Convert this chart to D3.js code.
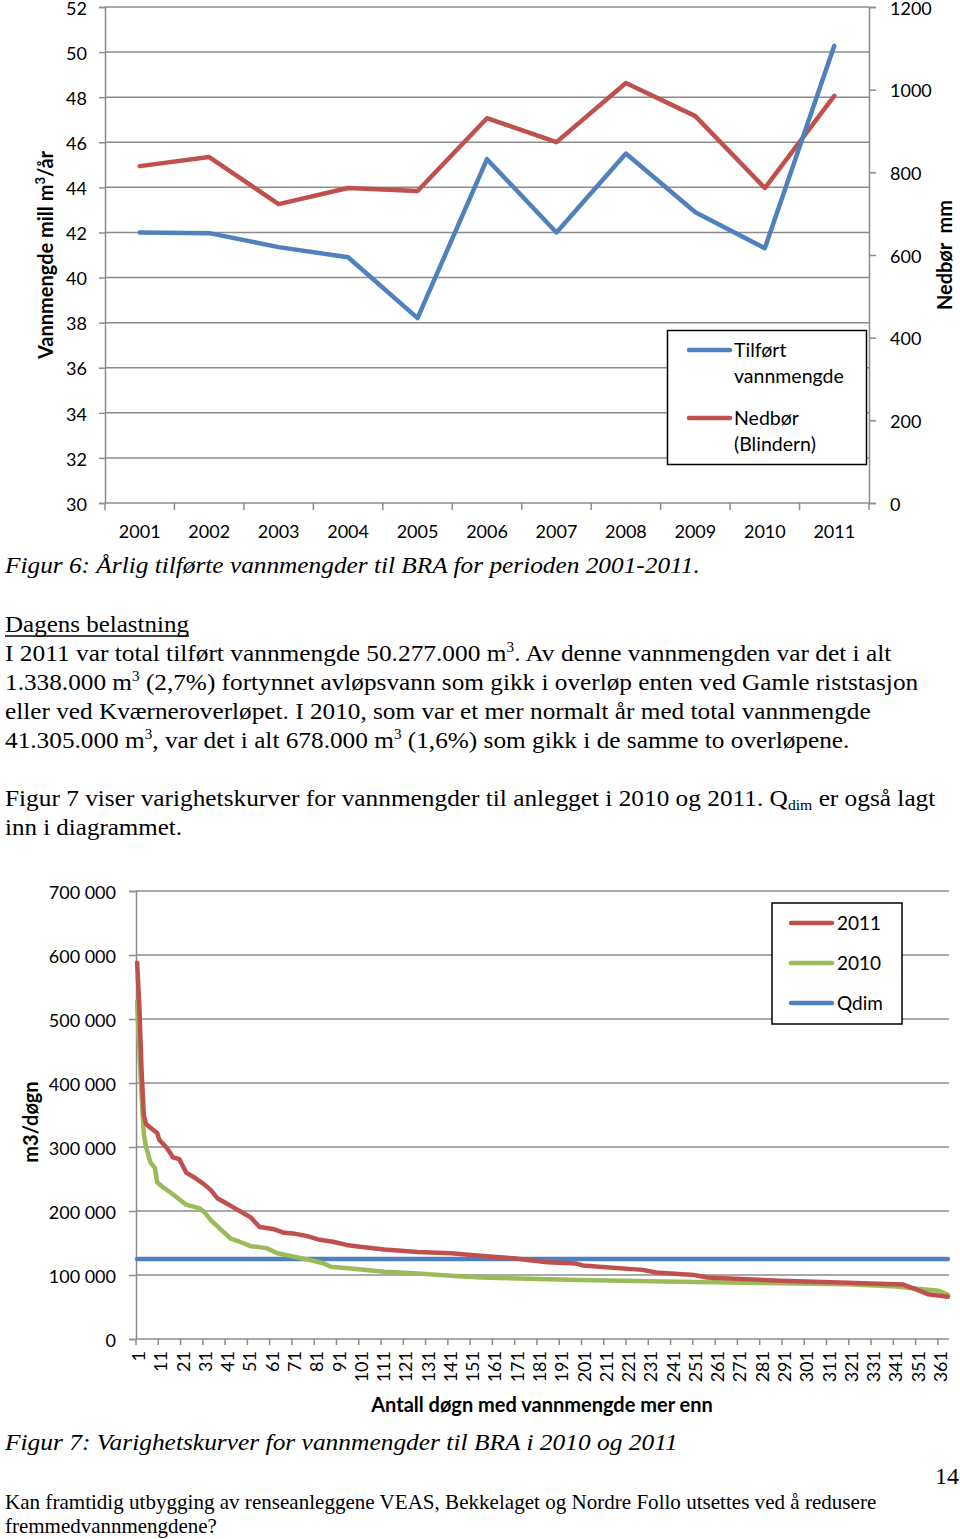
<!DOCTYPE html>
<html><head><meta charset="utf-8">
<script src="https://cdn.jsdelivr.net/npm/d3@7"></script>
<style>
html,body{margin:0;padding:0;background:#fff;}
svg{display:block;}
</style></head>
<body>
<svg id="page" width="960" height="1539"></svg>
<script>
// ---------- Figure 6 data ----------
const years = ["2001","2002","2003","2004","2005","2006","2007","2008","2009","2010","2011"];
const inflow = [42.0, 41.97, 41.35, 40.9, 38.2, 45.25, 42.0, 45.5, 42.9, 41.3, 50.28]; // mill m3/år
const precip = [815, 837, 723, 762, 755, 931, 873, 1016, 936, 762, 985];              // mm
const leftTicks = [30,32,34,36,38,40,42,44,46,48,50,52];
const rightTicks = [0,200,400,600,800,1000,1200];

// ---------- Figure 7 data (duration curves) ----------
const days2011 = [1,2,3,4,5,7,10,11,14,16,17,20,23,26,31,34,37,41,44,49,52,56,62,67,71,77,83,89,95,101,112,127,142,155,170,185,198,201,228,234,251,257,290,320,345,351,356,365];
const flow2011 = [588000,520000,420000,350000,336000,330000,322000,311000,300000,290000,284000,281000,260000,254000,242000,233000,220000,212000,206000,196000,190000,175000,172000,166000,165000,161000,155000,152000,147000,144000,140000,136000,134000,130000,126000,120000,118000,115000,108000,104000,100000,96000,91000,88000,85000,77000,70000,66000];
const days2010 = [1,2,3,4,5,7,9,10,13,16,20,23,29,31,34,38,43,47,52,59,64,71,79,85,88,97,112,127,142,155,200,245,290,320,342,350,361,365];
const flow2010 = [527000,450000,380000,320000,300000,276000,267000,245000,236000,229000,218000,210000,204000,199000,186000,173000,157000,152000,145000,142000,134000,129000,123000,118000,113000,110000,105000,102500,99000,96000,92000,89500,87000,85500,82000,79000,75500,69000];
const daysQdim = [1,365];
const flowQdim = [125000,125000];
const dayTickLabels = ["1","11","21","31","41","51","61","71","81","91","101","111","121","131","141","151","161","171","181","191","201","211","221","231","241","251","261","271","281","291","301","311","321","331","341","351","361"];
const yTicks7 = [0,100000,200000,300000,400000,500000,600000,700000];
const yTickLabels7 = ["0","100 000","200 000","300 000","400 000","500 000","600 000","700 000"];

const BLUE = "#4F81BD", RED = "#C0504D", GREEN = "#9BBB59", GRID = "#8c8c8c";
const SANS = "Lato, 'Open Sans', sans-serif";
const SERIF = "'Liberation Serif', 'Times New Roman', serif";

const svg = d3.select("#page");
svg.append("rect").attr("width",960).attr("height",1539).attr("fill","#fff");

// ================= FIGURE 6 =================
(function(){
  const g = svg.append("g");
  const x = d3.scaleBand().domain(years).range([105, 869]).padding(0);
  const yL = d3.scaleLinear().domain([30, 52]).range([503, 7]);
  const yR = d3.scaleLinear().domain([0, 1200]).range([503, 7]);
  const cx = d => x(d) + x.bandwidth()/2;

  g.selectAll(".grid").data(leftTicks.filter(t=>t>30)).join("line")
    .attr("x1",105).attr("x2",869).attr("y1",d=>yL(d)).attr("y2",d=>yL(d))
    .attr("stroke",GRID).attr("stroke-width",1.5);

  const axL = d3.axisLeft(yL).tickValues(leftTicks).tickSize(6).tickPadding(12);
  const gl = g.append("g").attr("transform","translate(105,0)").call(axL);
  const axR = d3.axisRight(yR).tickValues(rightTicks).tickSize(7).tickPadding(14).tickFormat(d3.format("d"));
  const gr = g.append("g").attr("transform","translate(869,0)").call(axR);
  const axB = d3.axisBottom(x).tickSize(0).tickPadding(22);
  const gb = g.append("g").attr("transform","translate(0,503)").call(axB);
  g.selectAll(".ctick").data(years.concat(["end"])).join("line")
    .attr("x1",(d,i)=> i<years.length ? x(d) : 869).attr("x2",(d,i)=> i<years.length ? x(d) : 869)
    .attr("y1",503).attr("y2",510).attr("stroke",GRID).attr("stroke-width",1.5);

  [gl,gr,gb].forEach(a=>{
    a.select(".domain").attr("stroke",GRID).attr("stroke-width",1.5);
    a.selectAll(".tick line").attr("stroke",GRID).attr("stroke-width",1.5);
    a.selectAll("text").attr("font-family",SANS).attr("font-size",18).attr("fill","#000");
  });
  gl.selectAll(".tick text").attr("dy","0.4em");
  gr.selectAll(".tick text").attr("dy","0.4em");
  gb.select(".domain").attr("d","M105,0H869");

  const lineL = d3.line().x((d,i)=>cx(years[i])).y(d=>yL(d));
  const lineR = d3.line().x((d,i)=>cx(years[i])).y(d=>yR(d));
  g.append("path").attr("d",lineR(precip)).attr("fill","none").attr("stroke",RED)
    .attr("stroke-width",4.5).attr("stroke-linejoin","round").attr("stroke-linecap","round");
  g.append("path").attr("d",lineL(inflow)).attr("fill","none").attr("stroke",BLUE)
    .attr("stroke-width",4.5).attr("stroke-linejoin","round").attr("stroke-linecap","round");

  const tL = g.append("text").attr("transform","translate(53,255) rotate(-90)")
    .attr("text-anchor","middle").attr("font-family",SANS).attr("font-weight","bold").attr("font-size",20);
  tL.append("tspan").text("Vannmengde mill m");
  tL.append("tspan").attr("font-size",13).attr("dy",-8).text("3");
  tL.append("tspan").attr("dy",8).text("/år");
  g.append("text").attr("transform","translate(952,255) rotate(-90)")
    .attr("text-anchor","middle").attr("font-family",SANS).attr("font-weight","bold").attr("font-size",20)
    .attr("xml:space","preserve").text("Nedbør  mm");

  g.append("rect").attr("x",667.5).attr("y",330.5).attr("width",199).attr("height",134)
    .attr("fill","#fff").attr("stroke","#000").attr("stroke-width",1.5);
  const leg = [{c:BLUE,y:350,l:["Tilført","vannmengde"]},{c:RED,y:418,l:["Nedbør","(Blindern)"]}];
  leg.forEach(it=>{
    g.append("line").attr("x1",689).attr("x2",730).attr("y1",it.y).attr("y2",it.y)
      .attr("stroke",it.c).attr("stroke-width",4.5).attr("stroke-linecap","round");
    it.l.forEach((s,k)=>{
      g.append("text").attr("x",734).attr("y",it.y+7+k*26).attr("font-family",SANS)
        .attr("font-size",19.5).text(s);
    });
  });
})();

// ================= FIGURE 7 =================
(function(){
  const g = svg.append("g");
  const dayCats = d3.range(1, 366);
  const x = d3.scaleBand().domain(dayCats).range([136, 949]).padding(0);
  const y = d3.scaleLinear().domain([0, 700000]).range([1339, 891]);
  const cx = d => x(d) + x.bandwidth()/2;

  g.selectAll(".grid").data(yTicks7.filter(t=>t>0)).join("line")
    .attr("x1",136).attr("x2",949).attr("y1",d=>y(d)).attr("y2",d=>y(d))
    .attr("stroke",GRID).attr("stroke-width",1.5);

  const axL = d3.axisLeft(y).tickValues(yTicks7).tickSize(7).tickPadding(13)
    .tickFormat((d,i)=>yTickLabels7[i]);
  const gl = g.append("g").attr("transform","translate(136,0)").call(axL);
  gl.select(".domain").attr("stroke",GRID).attr("stroke-width",1.5);
  gl.selectAll(".tick line").attr("stroke",GRID).attr("stroke-width",1.5);
  gl.selectAll("text").attr("font-family",SANS).attr("font-size",18).attr("fill","#000").attr("dy","0.4em");

  g.append("line").attr("x1",136).attr("x2",949).attr("y1",1339).attr("y2",1339)
    .attr("stroke",GRID).attr("stroke-width",1.5);
  const tickDays = dayTickLabels.map(Number);
  g.selectAll(".xt").data(tickDays).join("line")
    .attr("x1",d=>x(d)).attr("x2",d=>x(d)).attr("y1",1339).attr("y2",1345)
    .attr("stroke",GRID).attr("stroke-width",1.5);
  g.selectAll(".xl").data(dayTickLabels).join("text")
    .attr("transform",d=>`translate(${cx(+d)+1.5},1351) rotate(-90)`)
    .attr("text-anchor","end").attr("dy","0.36em")
    .attr("font-family",SANS).attr("font-size",18).text(d=>d);

  const line = (ds) => d3.line().x((d,i)=>cx(ds[i])).y(d=>y(d));
  g.append("path").attr("d",line(daysQdim)(flowQdim)).attr("fill","none").attr("stroke",BLUE)
    .attr("stroke-width",4.5).attr("stroke-linecap","round");
  g.append("path").attr("d",line(days2010)(flow2010)).attr("fill","none").attr("stroke",GREEN)
    .attr("stroke-width",4.5).attr("stroke-linejoin","round").attr("stroke-linecap","round");
  g.append("path").attr("d",line(days2011)(flow2011)).attr("fill","none").attr("stroke",RED)
    .attr("stroke-width",4.5).attr("stroke-linejoin","round").attr("stroke-linecap","round");

  g.append("text").attr("transform","translate(38,1122) rotate(-90)").attr("text-anchor","middle")
    .attr("font-family",SANS).attr("font-weight","bold").attr("font-size",20).text("m3/døgn");
  g.append("text").attr("x",542).attr("y",1412).attr("text-anchor","middle")
    .attr("font-family",SANS).attr("font-weight","bold").attr("font-size",20)
    .text("Antall døgn med vannmengde mer enn");

  g.append("rect").attr("x",772).attr("y",903).attr("width",130).attr("height",121)
    .attr("fill","#fff").attr("stroke","#000").attr("stroke-width",1.5);
  [{c:RED,y:923,l:"2011"},{c:GREEN,y:963,l:"2010"},{c:BLUE,y:1003,l:"Qdim"}].forEach(it=>{
    g.append("line").attr("x1",791).attr("x2",832).attr("y1",it.y).attr("y2",it.y)
      .attr("stroke",it.c).attr("stroke-width",4.5).attr("stroke-linecap","round");
    g.append("text").attr("x",837).attr("y",it.y+7).attr("font-family",SANS).attr("font-size",19).text(it.l);
  });
})();

// ================= BODY TEXT =================
function serifLine(parts, x0, base, width, size, italic){
  const t = svg.append("text").attr("x",0).attr("y",0)
    .attr("font-family",SERIF).attr("font-size",size).attr("xml:space","preserve")
    .attr("font-style", italic ? "italic" : "normal");
  let shift = 0;
  parts.forEach(p=>{
    if (typeof p === "string") {
      t.append("tspan").attr("dy",-shift).text(p); shift = 0;
    } else if (p.sup) {
      t.append("tspan").attr("dy",-9 - shift).attr("font-size",size*0.6).text(p.sup); shift = -9;
    } else if (p.sub) {
      t.append("tspan").attr("dy",4 - shift).attr("font-size",size*0.62).text(p.sub); shift = 4;
    }
  });
  const w = t.node().getComputedTextLength();
  const sx = width / w;
  t.attr("transform",`translate(${x0},${base}) scale(${sx},1)`);
  return t;
}
serifLine(["Figur 6: Årlig tilførte vannmengder til BRA for perioden 2001-2011."],5,573,695,24,true);
serifLine(["Dagens belastning"],5,632,184,24,false);
svg.append("line").attr("x1",5).attr("x2",189).attr("y1",636).attr("y2",636).attr("stroke","#000").attr("stroke-width",1.3);
serifLine(["I 2011 var total tilført vannmengde 50.277.000 m",{sup:"3"},". Av denne vannmengden var det i alt"],5,661,887,24,false);
serifLine(["1.338.000 m",{sup:"3"}," (2,7%) fortynnet avløpsvann som gikk i overløp enten ved Gamle riststasjon"],5,690,914,24,false);
serifLine(["eller ved Kværneroverløpet. I 2010, som var et mer normalt år med total vannmengde"],5,719,866,24,false);
serifLine(["41.305.000 m",{sup:"3"},", var det i alt 678.000 m",{sup:"3"}," (1,6%) som gikk i de samme to overløpene."],5,748,845,24,false);
serifLine(["Figur 7 viser varighetskurver for vannmengder til anlegget i 2010 og 2011. Q",{sub:"dim"}," er også lagt"],5,806,931,24,false);
serifLine(["inn i diagrammet."],5,835,177,24,false);
serifLine(["Figur 7: Varighetskurver for vannmengder til BRA i 2010 og 2011"],5,1450,673,24,true);
serifLine(["14"],935,1484,24,24,false);
serifLine(["Kan framtidig utbygging av renseanleggene VEAS, Bekkelaget og Nordre Follo utsettes ved å redusere"],5,1509,872,20,false);
serifLine(["fremmedvannmengdene?"],5,1533,212,20,false);
</script>
</body></html>
